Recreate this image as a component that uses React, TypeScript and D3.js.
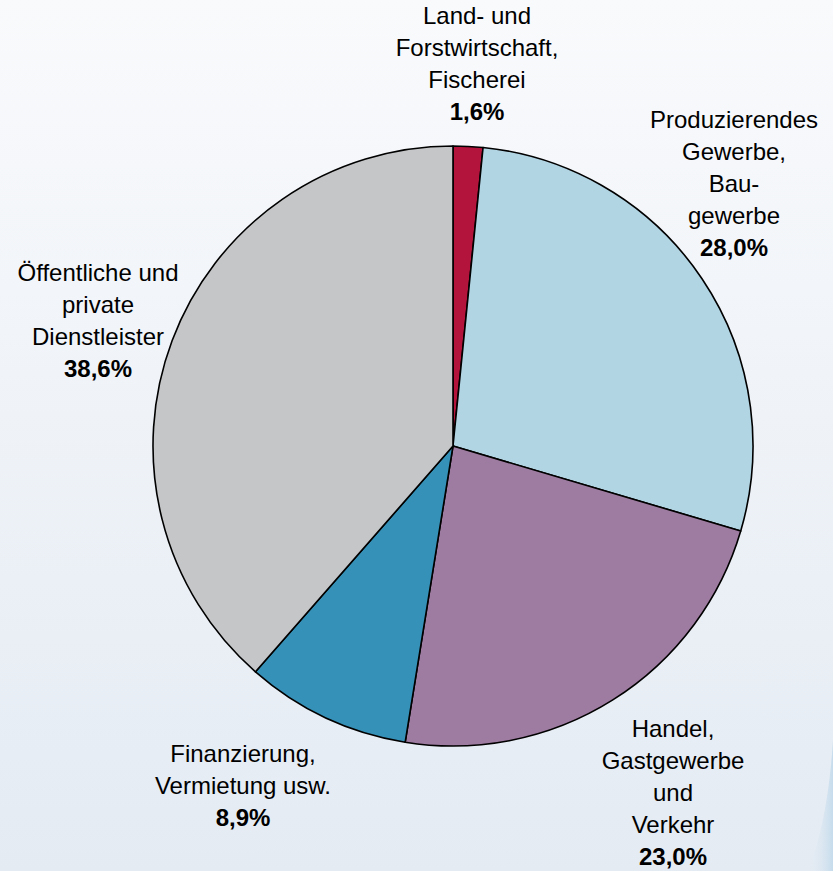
import React, { useEffect, useRef } from 'react';
import * as d3 from 'd3';

// sectors in clockwise order, starting at 12 o'clock
const sectors = [
  'Land- und Forstwirtschaft, Fischerei',
  'Produzierendes Gewerbe, Baugewerbe',
  'Handel, Gastgewerbe und Verkehr',
  'Finanzierung, Vermietung usw.',
  'Öffentliche und private Dienstleister',
];
const shares = [1.6, 28.0, 23.0, 8.9, 38.6];
const labelLines = [
  ['Land- und', 'Forstwirtschaft,', 'Fischerei'],
  ['Produzierendes', 'Gewerbe,', 'Bau-', 'gewerbe'],
  ['Handel,', 'Gastgewerbe', 'und', 'Verkehr'],
  ['Finanzierung,', 'Vermietung usw.'],
  ['Öffentliche und', 'private', 'Dienstleister'],
];
const shareLabels = ['1,6%', '28,0%', '23,0%', '8,9%', '38,6%'];

const colors = ['#b3143c', '#b2d5e4', '#9e7ba0', '#3591b8', '#c5c6c8'];
// label anchor: centre x and baseline of first line
const labelPos: [number, number][] = [
  [477, 24],
  [734, 128],
  [673, 737],
  [243, 762],
  [98, 281],
];

const W = 833;
const H = 871;

export default function App() {
  const ref = useRef<SVGSVGElement>(null);

  useEffect(() => {
    document.body.style.margin = '0';
    const svg = d3.select(ref.current);
    svg.selectAll('*').remove();

    const defs = svg.append('defs');
    const bg = defs
      .append('linearGradient')
      .attr('id', 'bg')
      .attr('x1', 0)
      .attr('y1', 0)
      .attr('x2', 0)
      .attr('y2', 1);
    bg.append('stop').attr('offset', '0%').attr('stop-color', '#f9fafc');
    bg.append('stop').attr('offset', '100%').attr('stop-color', '#e4ebf3');

    const sw = defs
      .append('linearGradient')
      .attr('id', 'swoosh')
      .attr('x1', 0)
      .attr('y1', 0)
      .attr('x2', 1)
      .attr('y2', 0);
    sw.append('stop').attr('offset', '0%').attr('stop-color', '#e4ebf3').attr('stop-opacity', 0);
    sw.append('stop').attr('offset', '100%').attr('stop-color', '#c6dcec');

    svg.append('rect').attr('width', W).attr('height', H).attr('fill', 'url(#bg)');

    // decorative swoosh in bottom-right corner
    svg
      .append('path')
      .attr('d', `M833,740 Q828,820 808,871 L833,871 Z`)
      .attr('fill', 'url(#swoosh)');

    const cx = 453;
    const cy = 446;
    const r = 300;

    const pie = d3
      .pie<number>()
      .sort(null)
      .value(d => d);
    const arc = d3.arc<d3.PieArcDatum<number>>().innerRadius(0).outerRadius(r);

    const g = svg.append('g').attr('transform', `translate(${cx},${cy})`);
    g.selectAll('path')
      .data(pie(shares))
      .join('path')
      .attr('d', arc)
      .attr('fill', (_, i) => colors[i])
      .attr('stroke', '#000')
      .attr('stroke-width', 1.6)
      .attr('stroke-linejoin', 'round');

    const lh = 32;
    sectors.forEach((_, i) => {
      const [x, y] = labelPos[i];
      const t = svg
        .append('text')
        .attr('text-anchor', 'middle')
        .attr('font-family', '"Liberation Sans", Arial, sans-serif')
        .attr('font-size', 24)
        .attr('fill', '#000');
      labelLines[i].forEach((line, j) => {
        t.append('tspan').attr('x', x).attr('y', y + j * lh).text(line);
      });
      t.append('tspan')
        .attr('x', x)
        .attr('y', y + labelLines[i].length * lh)
        .attr('font-weight', 'bold')
        .text(shareLabels[i]);
    });
  }, []);

  return <svg ref={ref} width={W} height={H} style={{ display: 'block' }} />;
}
